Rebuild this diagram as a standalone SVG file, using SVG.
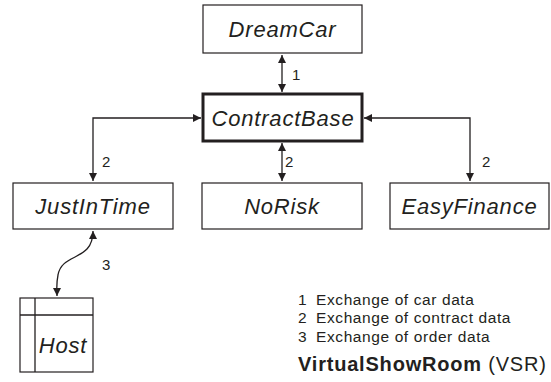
<svg xmlns="http://www.w3.org/2000/svg" width="551" height="382" viewBox="0 0 551 382">
  <style>
    .box { fill: #fff; stroke: #231f20; stroke-width: 1.2; }
    .thick { stroke-width: 3; }
    .name { font-family: "Liberation Sans", Arial, sans-serif; font-style: italic; font-size: 22px; letter-spacing: 0.8px; fill: #231f20; text-anchor: middle; }
    .lbl { font-family: "Liberation Sans", Arial, sans-serif; font-size: 15px; fill: #231f20; }
    .legend { font-family: "Liberation Sans", Arial, sans-serif; font-size: 15.5px; letter-spacing: 0.6px; fill: #231f20; }
    .link { fill: none; stroke: #231f20; stroke-width: 1.3; }
  </style>
  <defs>
    <marker id="arr" viewBox="0 0 10 10" refX="10" refY="5" markerWidth="9" markerHeight="8" markerUnits="userSpaceOnUse" orient="auto-start-reverse">
      <path d="M0,0 L10,5 L0,10 Z" fill="#231f20"/>
    </marker>
  </defs>

  <g id="DreamCar">
    <rect class="box" x="203" y="5" width="159" height="48"/>
    <text class="name" x="282.5" y="37">DreamCar</text>
  </g>
  <g id="ContractBase">
    <rect class="box thick" x="203" y="94" width="159" height="47"/>
    <text class="name" x="283" y="126">ContractBase</text>
  </g>
  <g id="JustInTime">
    <rect class="box" x="13" y="183" width="160" height="46"/>
    <text class="name" x="93" y="214">JustInTime</text>
  </g>
  <g id="NoRisk">
    <rect class="box" x="202" y="183" width="160" height="46"/>
    <text class="name" x="282" y="214">NoRisk</text>
  </g>
  <g id="EasyFinance">
    <rect class="box" x="390" y="183" width="159" height="46"/>
    <text class="name" x="469.5" y="214">EasyFinance</text>
  </g>
  <g id="Host">
    <rect class="box" x="20" y="298" width="73" height="74"/>
    <line class="link" x1="20" y1="315" x2="93" y2="315"/>
    <line class="link" x1="35" y1="298" x2="35" y2="372"/>
    <text class="name" x="63" y="353">Host</text>
  </g>

  <g id="connectors">
    <line class="link" x1="282" y1="55" x2="282" y2="92" marker-start="url(#arr)" marker-end="url(#arr)"/>
    <path class="link" d="M201,118 H93 V181" marker-start="url(#arr)" marker-end="url(#arr)"/>
    <path class="link" d="M364,118 H470 V181" marker-start="url(#arr)" marker-end="url(#arr)"/>
    <line class="link" x1="282" y1="143" x2="282" y2="181" marker-start="url(#arr)" marker-end="url(#arr)"/>
    <path class="link" d="M93,231 C93,262 62,252 58,275 C56,285 57,290 57,296" marker-start="url(#arr)" marker-end="url(#arr)"/>
  </g>

  <g id="labels" class="lbl">
    <text x="292" y="80">1</text>
    <text x="102" y="167">2</text>
    <text x="285" y="167">2</text>
    <text x="482" y="167">2</text>
    <text x="102" y="270">3</text>
  </g>

  <g id="legend" class="legend">
    <text x="298" y="305">1<tspan x="316">Exchange of car data</tspan></text>
    <text x="298" y="323">2<tspan x="316">Exchange of contract data</tspan></text>
    <text x="298" y="342">3<tspan x="316">Exchange of order data</tspan></text>
    <text x="298" y="371" font-size="20" letter-spacing="0.8"><tspan font-weight="bold">VirtualShowRoom</tspan> (VSR)</text>
  </g>
</svg>
